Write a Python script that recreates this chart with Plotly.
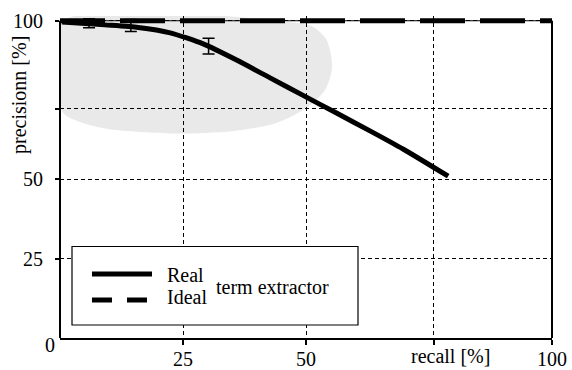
import plotly.graph_objects as go

# ---- data ----
real_recall = [0.4, 9.1, 15.9, 22.4, 29.1, 35.9, 42.7, 49.5, 56.2, 63.0, 69.8, 78.9]
real_precision = [99.6, 98.7, 97.9, 96.2, 92.7, 87.6, 82.0, 76.4, 70.9, 65.3, 59.5, 51.0]

err_recall = [5.9, 14.4, 30.2]
err_precision = [99.2, 98.5, 92.0]
err_size = [1.4, 1.9, 2.5]

ideal_recall = [0, 100]
ideal_precision = [100, 100]

blob_recall = [0.2, 47.0, 51.4, 54.2, 55.3, 54.0, 50.5, 44.0, 35.0, 22.4, 9.1, 3.0, 0.4, 0.2]
blob_precision = [99.5, 99.5, 98.1, 93.9, 85.5, 78.5, 73.0, 67.8, 65.2, 64.5, 66.0, 68.7, 71.5, 99.5]

x_tickvals = [25, 50, 76, 100]
x_ticktext = ["25", "50", "", "100"]
y_tickvals = [25, 50, 72.2, 100]
y_ticktext = ["25", "50", "", "100"]

legend_names = ["Real", "Ideal"]
legend_title = "term extractor"
x_title = "recall [%]"
y_title = "precisionn [%]"

FONT = "Liberation Serif, Times New Roman, serif"

fig = go.Figure()

# shaded region
fig.add_trace(go.Scatter(
    x=blob_recall, y=blob_precision, mode="lines", fill="toself",
    fillcolor="rgba(0,0,0,0.085)", line=dict(width=0, shape="spline", smoothing=0.8),
    hoverinfo="skip", showlegend=False))

# ideal
fig.add_trace(go.Scatter(
    x=ideal_recall, y=ideal_precision, mode="lines", name=legend_names[1],
    line=dict(color="black", width=5, dash="45px,15px"), showlegend=False))

# real
fig.add_trace(go.Scatter(
    x=real_recall, y=real_precision, mode="lines", name=legend_names[0],
    line=dict(color="black", width=5, shape="spline", smoothing=0.6), showlegend=False))

# error bars
fig.add_trace(go.Scatter(
    x=err_recall, y=err_precision, mode="markers",
    marker=dict(size=1, color="rgba(0,0,0,0)"),
    error_y=dict(type="data", array=err_size, visible=True, color="black", thickness=1.5, width=6),
    hoverinfo="skip", showlegend=False))

fig.update_xaxes(
    range=[0, 100], showline=True, linewidth=2, linecolor="black", automargin=False,
    tickvals=x_tickvals, ticktext=x_ticktext, ticks="outside", ticklen=5, tickwidth=1.5,
    tickcolor="black", showgrid=True, gridcolor="black", gridwidth=1, griddash="4px,3px",
    zeroline=False, ticklabelstandoff=-3)
fig.update_yaxes(
    range=[0, 101.5], showline=False, automargin=False,
    tickvals=y_tickvals, ticktext=y_ticktext, ticks="outside", ticklen=4, tickwidth=1.5,
    tickcolor="black", showgrid=True, gridcolor="black", gridwidth=1, griddash="4px,3px",
    zeroline=False, ticklabelstandoff=8)

shapes = [
    # frame (left, right, thin top)
    dict(type="line", xref="paper", yref="y", x0=0, x1=0, y0=0, y1=100,
         line=dict(color="black", width=2), layer="above"),
    dict(type="line", xref="paper", yref="y", x0=1, x1=1, y0=0, y1=100,
         line=dict(color="black", width=2), layer="above"),
    dict(type="line", xref="paper", yref="y", x0=0, x1=1, y0=100, y1=100,
         line=dict(color="black", width=1), layer="below"),
    # legend box
    dict(type="rect", xref="paper", yref="paper", x0=0.0244, x1=0.6057, y0=0.0404, y1=0.2842,
         line=dict(color="black", width=1.2), fillcolor="white", layer="above"),
    # legend samples
    dict(type="line", xref="paper", yref="paper", x0=0.065, x1=0.187, y0=0.1988, y1=0.1988,
         line=dict(color="black", width=5), layer="above"),
    dict(type="line", xref="paper", yref="paper", x0=0.065, x1=0.1768, y0=0.118, y1=0.118,
         line=dict(color="black", width=5, dash="20px,15px"), layer="above"),
]

annotations = [
    dict(text=legend_names[0], xref="paper", yref="paper", x=0.2134, y=0.1957,
         xanchor="left", yanchor="middle", showarrow=False),
    dict(text=legend_names[1], xref="paper", yref="paper", x=0.2134, y=0.1273,
         xanchor="left", yanchor="middle", showarrow=False),
    dict(text=legend_title, xref="paper", yref="paper", x=0.313, y=0.1584,
         xanchor="left", yanchor="middle", showarrow=False),
    dict(text=x_title, xref="paper", yref="paper", x=0.7947, y=-0.0559,
         xanchor="center", yanchor="middle", showarrow=False),
    dict(text=y_title, xref="paper", yref="paper", x=-0.0813, y=0.7547, textangle=-90,
         xanchor="center", yanchor="middle", showarrow=False),
    dict(text="0", xref="paper", yref="paper", x=-0.0203, y=-0.0217,
         xanchor="center", yanchor="middle", showarrow=False),
]

fig.update_layout(
    width=572, height=370,
    margin=dict(l=60, r=20, t=16, b=32),
    paper_bgcolor="white", plot_bgcolor="white",
    font=dict(family=FONT, size=20, color="black"),
    shapes=shapes, annotations=annotations, showlegend=False)

fig.write_html("out.html")
